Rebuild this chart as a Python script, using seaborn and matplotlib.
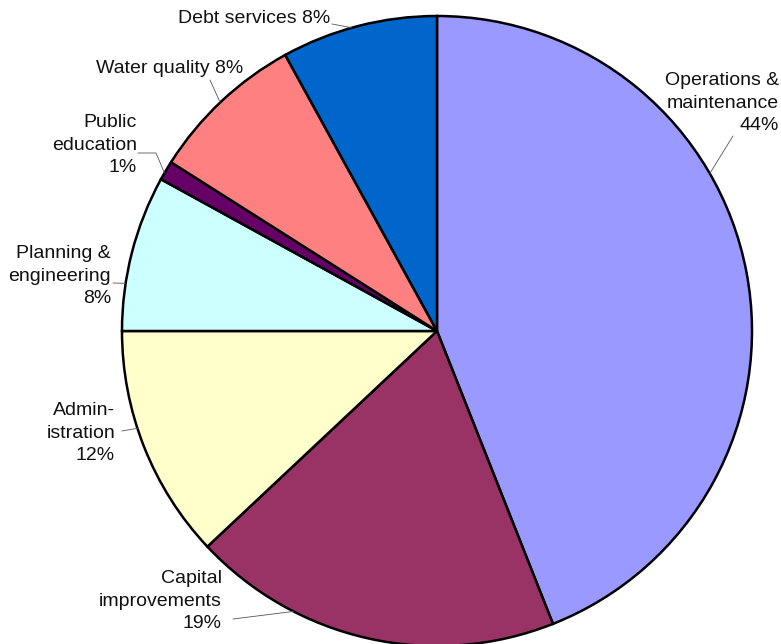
import numpy as np
import matplotlib
matplotlib.use("Agg")
import matplotlib.pyplot as plt
import seaborn as sns

# Budget shares, clockwise from 12 o'clock
categories = ["Operations &\nmaintenance", "Capital\nimprovements", "Admin-\nistration",
              "Planning &\nengineering", "Public\neducation", "Water quality", "Debt services"]
shares = [44, 19, 12, 8, 1, 8, 8]
colors = ["#9999FF", "#993366", "#FFFFCC", "#CCFFFF", "#660066", "#FF8080", "#0066CC"]

sns.set_theme(style="white")
plt.rcParams["font.family"] = ["Liberation Sans", "DejaVu Sans"]

W, H = 781, 644
fig = plt.figure(figsize=(W / 100, H / 100), dpi=100)
ax = fig.add_axes([0, 0, 1, 1])

cx, cy, r = 437, H - 331, 315
ax.pie(shares, colors=colors, startangle=90, counterclock=False,
       center=(cx, cy), radius=r, frame=True,
       wedgeprops=dict(edgecolor="black", linewidth=1.8))
ax.set_xlim(0, W)
ax.set_ylim(0, H)
ax.set_aspect("equal")
ax.axis("off")

# label layout: (right x, centre y in pixel rows from top, leader start, leader angle on rim)
layout = [
    (779, 103, [(733, 136)], 30.0),
    (222, 601, [(233, 619)], 242.9),
    (115, 433, [(122, 431)], 198.0),
    (111, 276, [(113, 283)], 171.3),
    (137, 145, [(138, 153), (156, 153)], 149.9),
    (243, 68, [(210, 80)], 133.5),
    (330, 18, [(332, 24)], 105.7),
]

for lab, val, (tx, ty, pts, ang) in zip(categories, shares, layout):
    sep = " " if "\n" not in lab else "\n"
    ax.text(tx, H - ty, f"{lab}{sep}{val}%", ha="right", va="center",
            fontsize=14, linespacing=1.42, color="#111111")
    xs = [p[0] for p in pts] + [cx + r * np.cos(np.radians(ang))]
    ys = [H - p[1] for p in pts] + [cy + r * np.sin(np.radians(ang))]
    ax.plot(xs, ys, color="#555555", linewidth=0.6)

fig.savefig("out.png", dpi=100)
